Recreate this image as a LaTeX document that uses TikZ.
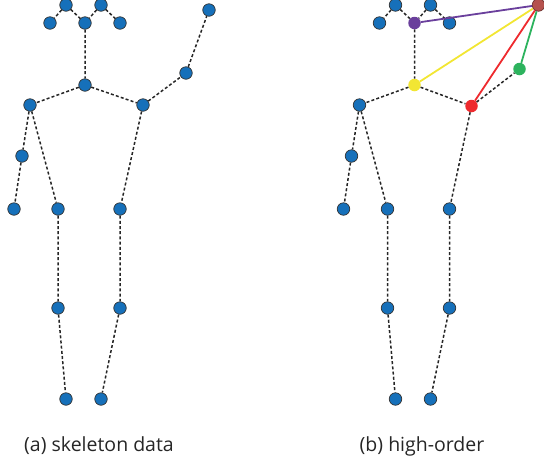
\documentclass[tikz,border=0pt]{standalone}
\usepackage{fontspec}
\setmainfont{Open Sans}
\begin{document}
\begin{tikzpicture}[x=1pt,y=-1pt,
  joint/.style={circle,draw=black!80,line width=0.7pt,fill=jointblue,minimum size=12.5pt,inner sep=0pt},
  hjoint/.style={circle,draw=none,minimum size=12.5pt,inner sep=0pt},
  bone/.style={dash pattern=on 3pt off 2.2pt,line width=1.5pt,black!85},
  link/.style={line width=1.8pt},
  caption/.style={font=\fontsize{19.5}{22}\selectfont,text=black!85}]
\definecolor{jointblue}{HTML}{1670BA}
\definecolor{hpurple}{HTML}{6A3F9C}
\definecolor{hyellow}{HTML}{F2E633}
\definecolor{hred}{HTML}{EE2A2E}
\definecolor{hgreen}{HTML}{2DB35E}
\definecolor{hbrown}{HTML}{B5524E}
\useasboundingbox (0,0) rectangle (544,459);

% ---- (a) skeleton data ----
\begin{scope}
\node[joint] (ht1) at (66,5) {};
\node[joint] (ht2) at (101,5) {};
\node[joint] (e1) at (50,23) {};
\node[joint] (nk) at (85,23) {};
\node[joint] (e2) at (120,23) {};
\node[joint] (ch) at (85,85) {};
\node[joint] (s1) at (30,105) {};
\node[joint] (s2) at (143,105) {};
\node[joint] (el1) at (22,156) {};
\node[joint] (w1) at (14,209) {};
\node[joint] (el2) at (186,73) {};
\node[joint] (w2) at (209,10) {};
\node[joint] (h1) at (58,209) {};
\node[joint] (h2) at (120,209) {};
\node[joint] (k1) at (58,308) {};
\node[joint] (k2) at (120,308) {};
\node[joint] (a1) at (66,399) {};
\node[joint] (a2) at (101,399) {};
\draw[bone] (ht1)--(e1) (ht1)--(nk) (ht2)--(nk) (ht2)--(e2) (nk)--(ch)
  (ch)--(s1) (ch)--(s2) (s1)--(el1) (el1)--(w1) (s1)--(h1) (s2)--(h2)
  (s2)--(el2) (el2)--(w2) (h1)--(k1) (k1)--(a1) (h2)--(k2) (k2)--(a2);
\node[caption] (capa) at (99,446) {(a) skeleton data};
\end{scope}

% ---- (b) high-order ----
\begin{scope}[xshift=329.5]
\node[joint] (bht1) at (66,5) {};
\node[joint] (bht2) at (101,5) {};
\node[joint] (be1) at (50,23) {};
\node[hjoint,fill=hpurple] (bnk) at (85,23) {};
\node[joint] (be2) at (120,23) {};
\node[hjoint,fill=hyellow] (bch) at (85,85) {};
\node[joint] (bs1) at (30,105) {};
\node[hjoint,fill=hred] (bs2) at (142,106) {};
\node[joint] (bel1) at (22,156) {};
\node[joint] (bw1) at (14,209) {};
\node[hjoint,fill=hgreen] (bel2) at (190,69) {};
\node[hjoint,fill=hbrown,draw=hbrown!60!black,line width=0.7pt] (bw2) at (209,5) {};
\node[joint] (bh1) at (58,209) {};
\node[joint] (bh2) at (120,209) {};
\node[joint] (bk1) at (58,308) {};
\node[joint] (bk2) at (120,308) {};
\node[joint] (ba1) at (66,399) {};
\node[joint] (ba2) at (101,399) {};
\draw[bone] (bht1)--(be1) (bht1)--(bnk) (bht2)--(bnk) (bht2)--(be2) (bnk)--(bch)
  (bch)--(bs1) (bch)--(bs2) (bs1)--(bel1) (bel1)--(bw1) (bs1)--(bh1) (bs2)--(bh2)
  (bs2)--(bel2) (bh1)--(bk1) (bk1)--(ba1) (bh2)--(bk2) (bk2)--(ba2);
\draw[link,hpurple] (bw2)--(bnk);
\draw[link,hyellow] (bw2)--(bch);
\draw[link,hred] (bw2)--(bs2);
\draw[link,hgreen] (bw2)--(bel2);
\node[caption] (capb) at (92.5,446) {(b) high-order};
\end{scope}
\end{tikzpicture}
\end{document}
